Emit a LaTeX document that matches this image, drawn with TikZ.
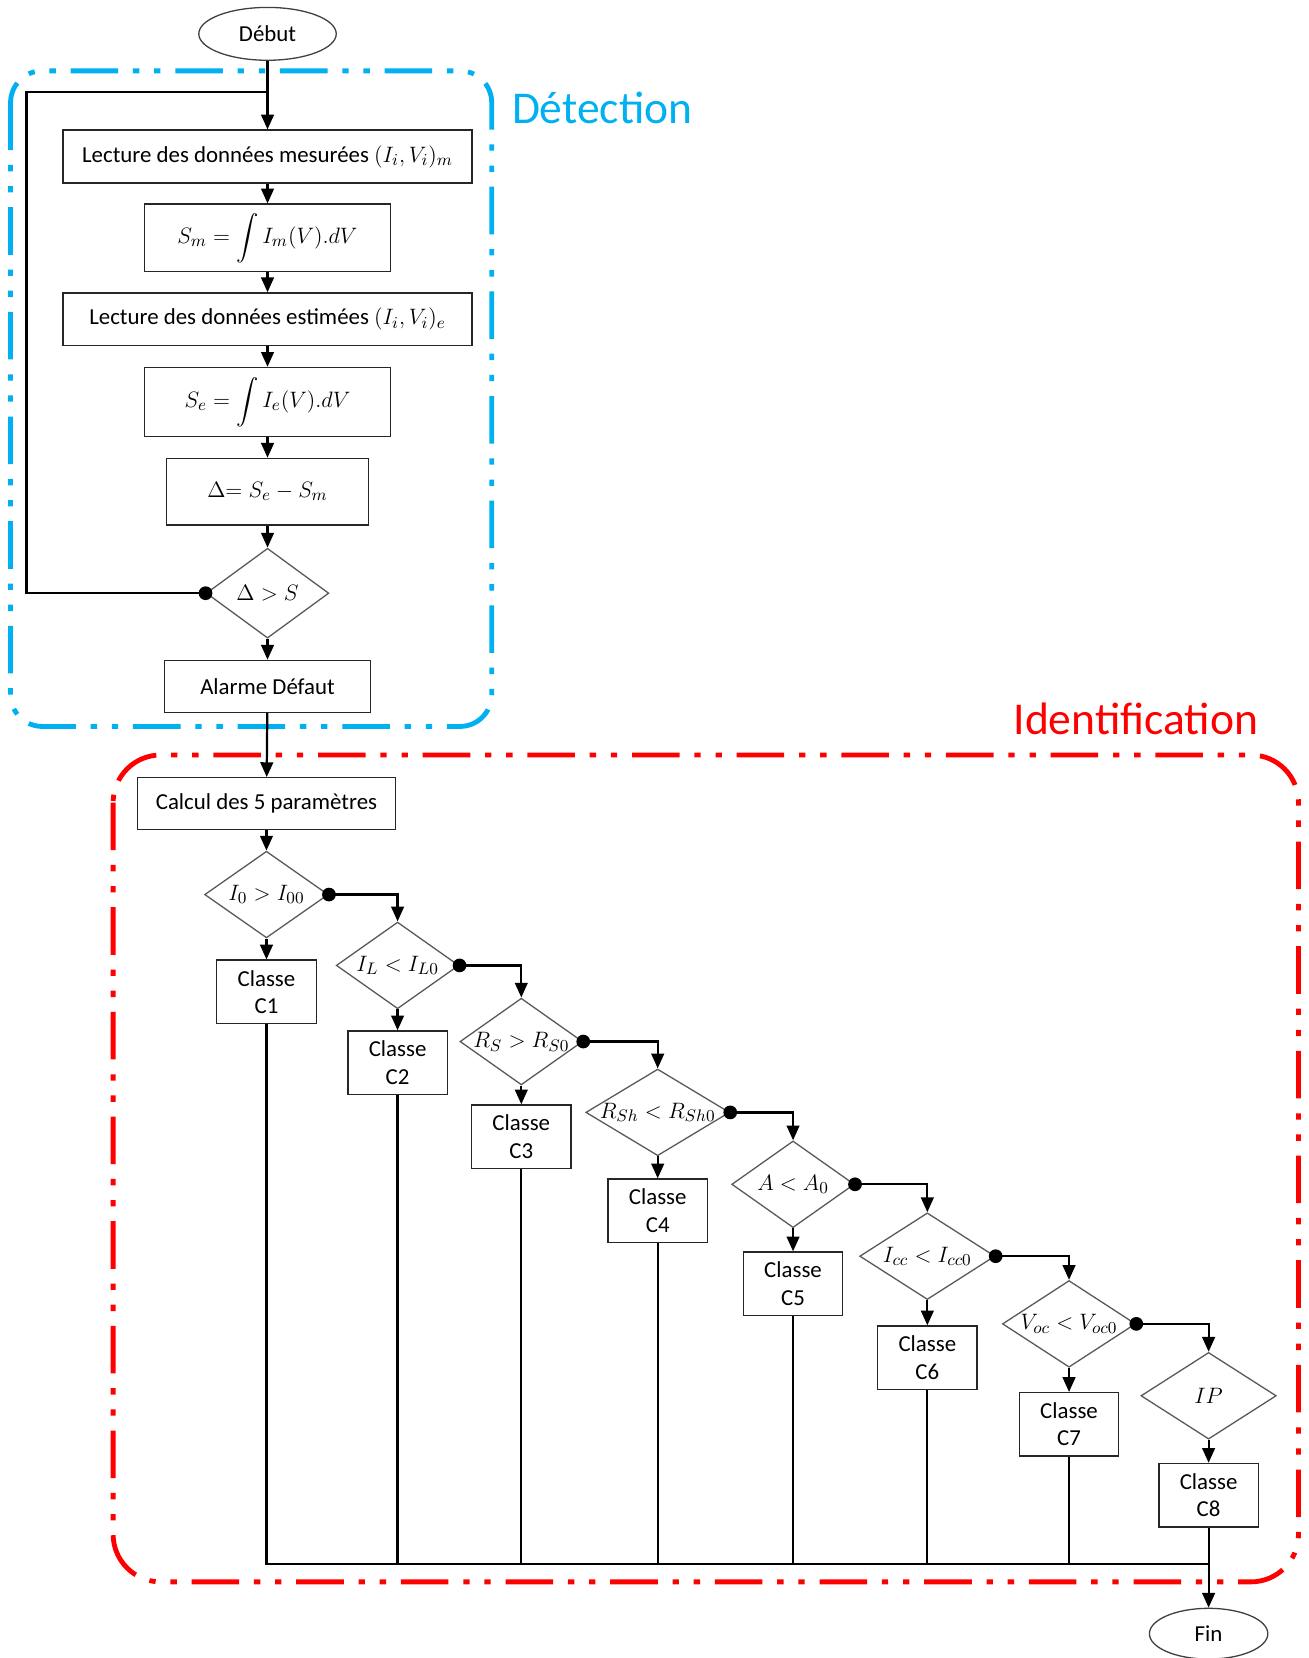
\documentclass[tikz,border=0pt]{standalone}
\usepackage{fontspec}
\setmainfont{Carlito}
\usepackage{amsmath}
\usetikzlibrary{arrows.meta, shapes.geometric}
\definecolor{detect}{RGB}{0,176,240}
\definecolor{ident}{RGB}{255,0,0}

\begin{document}
\begin{tikzpicture}[
  x=0.02cm, y=-0.02cm,
  every node/.style={font=\fontsize{12.3}{14.7}\selectfont},
  box/.style={draw=black!85, line width=0.7pt, align=center, inner sep=0pt},
  classbox/.style={box, minimum width=1.88cm, minimum height=1.2cm},
  decision/.style={diamond, draw=black!65, line width=0.7pt, inner sep=0pt,
                   minimum width=2.32cm, minimum height=1.64cm},
  term/.style={ellipse, draw=black!75, line width=0.7pt, inner sep=0pt},
  wire/.style={line width=1.2pt},
  arr/.style={-{Triangle[length=2.8mm, width=2.4mm]}, line width=1.2pt},
  frame/.style={line width=2.6pt,
                dash pattern=on 0.9cm off 0.28cm on 0.12cm off 0.28cm on 0.12cm off 0.28cm},
]
  \useasboundingbox (0,0) rectangle (1237,1568);

  % frames
  \draw[frame, draw=detect, rounded corners=0.6cm] (10,67) rectangle (465,687);
  \node[font=\fontsize{24.5}{28}\selectfont, text=detect, anchor=west] (titdet) at (478,102) {Détection};
  \draw[frame, draw=ident, rounded corners=0.9cm] (107,714) rectangle (1228,1496);
  \node[font=\fontsize{24.5}{28}\selectfont, text=ident, anchor=east] (titid) at (1196,680) {Identification};

  % detection
  \node[term, minimum width=2.6cm, minimum height=1.0cm] (debut) at (253,32) {Début};
  \node[box, minimum width=7.74cm, minimum height=1.0cm] (lectm) at (253,148)
       {Lecture des données mesurées $(I_i,V_i)_m$};
  \node[box, minimum width=4.66cm, minimum height=1.28cm] (sm) at (253,225)
       {$S_m=\displaystyle\int I_m(V).dV$};
  \node[box, minimum width=7.74cm, minimum height=1.0cm] (lecte) at (253,302)
       {Lecture des données estimées $(I_i,V_i)_e$};
  \node[box, minimum width=4.66cm, minimum height=1.3cm] (se) at (253,380)
       {$S_e=\displaystyle\int I_e(V).dV$};
  \node[box, minimum width=3.82cm, minimum height=1.26cm] (delta) at (253,465)
       {$\Delta{=}\;S_e-S_m$};
  \node[decision, minimum height=1.7cm] (test) at (253,561) {\makebox[0pt]{$\Delta>S$}};
  \node[box, minimum width=3.9cm, minimum height=0.98cm] (alarme) at (253,649) {Alarme Défaut};

  \coordinate (join) at (253,87);
  \coordinate (loop) at (25,561);
  \draw[arr] (debut) -- (lectm);
  \draw[arr] (lectm) -- (sm);
  \draw[arr] (sm) -- (lecte);
  \draw[arr] (lecte) -- (se);
  \draw[arr] (se) -- (delta);
  \draw[arr] (delta) -- (test);
  \draw[arr] (test) -- (alarme);
  \draw[wire] (test.west) -- (loop) |- (join);
  \fill (test.west) circle (0.13cm);

  % identification
  \node[box, minimum width=4.88cm, minimum height=0.98cm] (calcul) at (252,760) {Calcul des 5 paramètres};
  \node[decision, minimum width=2.34cm] (d1) at (252,846) {\makebox[0pt]{$I_0>I_{00}$}};
  \node[classbox] (c1) at (252,938) {Classe\\C1};
  \node[decision] (d2) at (376,913) {\makebox[0pt]{$I_L<I_{L0}$}};
  \node[classbox] (c2) at (376,1005) {Classe\\C2};
  \node[decision] (d3) at (493,985) {\makebox[0pt]{$R_S>R_{S0}$}};
  \node[classbox] (c3) at (493,1075) {Classe\\C3};
  \node[decision, minimum width=2.72cm] (d4) at (622,1052) {\makebox[0pt]{$R_{Sh}<R_{Sh0}$}};
  \node[classbox] (c4) at (622,1145) {Classe\\C4};
  \node[decision] (d5) at (750,1120) {\makebox[0pt]{$A<A_0$}};
  \node[classbox] (c5) at (750,1214) {Classe\\C5};
  \node[decision, minimum width=2.56cm] (d6) at (877,1188) {\makebox[0pt]{$I_{cc}<I_{cc0}$}};
  \node[classbox] (c6) at (877,1284) {Classe\\C6};
  \node[decision, minimum width=2.52cm] (d7) at (1011,1252) {\makebox[0pt]{$V_{oc}<V_{oc0}$}};
  \node[classbox] (c7) at (1011,1347) {Classe\\C7};
  \node[decision, minimum width=2.56cm] (d8) at (1143,1320) {\makebox[0pt]{$IP$}};
  \node[classbox] (c8) at (1143,1414) {Classe\\C8};
  \node[term, minimum width=2.24cm, minimum height=0.96cm] (fin) at (1143,1545) {Fin};

  \draw[arr] (alarme) -- (calcul);
  \draw[arr] (calcul) -- (d1);
  \draw[arr] (d1) -- (c1);
  \draw[arr] (d2) -- (c2);
  \draw[arr] (d3) -- (c3);
  \draw[arr] (d4) -- (c4);
  \draw[arr] (d5) -- (c5);
  \draw[arr] (d6) -- (c6);
  \draw[arr] (d7) -- (c7);
  \draw[arr] (d8) -- (c8);

  \draw[arr] (d1.east) -| (d2.north);
  \draw[arr] (d2.east) -| (d3.north);
  \draw[arr] (d3.east) -| (d4.north);
  \draw[arr] (d4.east) -| (d5.north);
  \draw[arr] (d5.east) -| (d6.north);
  \draw[arr] (d6.east) -| (d7.north);
  \draw[arr] (d7.east) -| (d8.north);
  \fill (d1.east) circle (0.13cm);
  \fill (d2.east) circle (0.13cm);
  \fill (d3.east) circle (0.13cm);
  \fill (d4.east) circle (0.13cm);
  \fill (d5.east) circle (0.13cm);
  \fill (d6.east) circle (0.13cm);
  \fill (d7.east) circle (0.13cm);

  % collecting line
  \coordinate (bus) at (1143,1479);
  \draw[wire] (c1.south) |- (bus);
  \draw[wire] (c2.south) |- (bus);
  \draw[wire] (c3.south) |- (bus);
  \draw[wire] (c4.south) |- (bus);
  \draw[wire] (c5.south) |- (bus);
  \draw[wire] (c6.south) |- (bus);
  \draw[wire] (c7.south) |- (bus);
  \draw[arr] (c8) -- (fin);
\end{tikzpicture}
\end{document}
